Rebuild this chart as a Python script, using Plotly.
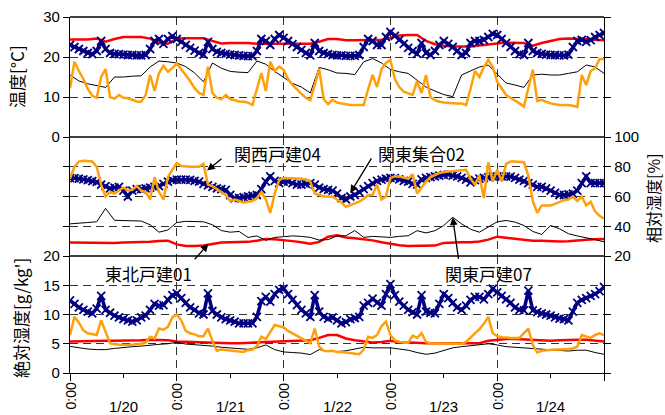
import plotly.graph_objects as go

# ---------------- data ----------------
hours_1h = list(range(121))          # hourly stamps, 1/20 0:00 .. 1/25 0:00
hours_2h = list(range(0, 121, 2))    # 2-hourly stamps

day_ticks = [0, 24, 48, 72, 96, 120]
day_labels = ["1/20", "1/21", "1/22", "1/23", "1/24"]
day_label_pos = [12, 36, 60, 84, 108]
temp_ticks = [0, 10, 20, 30]
rh_ticks = [20, 40, 60, 80, 100]
ah_ticks = [0, 5, 10, 15, 20]

names = ["東北戸建01", "関東戸建07", "関東集合02", "関西戸建04"]

# Temperature [°C]
temp_tohoku01 = [24.4,24.4,24.4,24.6,23.8,24.5,25.0,25.0,25.0,24.6,23.5,23.3,24.6,24.7,24.7,24.7,24.0,23.4,23.5,23.5,
                 23.5,23.3,23.3,23.3,23.3,23.4,23.4,23.3,23.8,24.5,24.5,24.2,24.2,24.2,24.3,24.3,24.8,25.4,25.5,25.5,
                 24.0,23.2,22.8,22.6,22.6,22.6,22.9,23.2,23.4,23.6,23.6,23.5,22.8,23.5,24.0,24.5,24.6,24.6,24.5,24.3,24.2]
temp_kanto07 = [15.5,14.0,13.3,12.8,12.4,15.0,15.0,15.2,15.3,17.5,19.0,18.8,18.5,17.6,16.0,13.8,18.5,17.2,16.4,16.2,
                16.1,19.0,18.2,16.4,14.8,13.4,12.5,11.0,17.4,16.8,16.0,15.9,15.6,18.8,19.6,18.5,16.9,16.3,15.9,14.2,
                12.5,11.5,10.6,10.1,15.5,16.5,17.5,18.0,15.8,13.5,13.0,12.4,15.5,15.7,15.5,15.5,15.9,16.3,18.0,17.5,15.9]
temp_kanto02 = [23.0,22.5,22.0,21.5,21.0,20.7,21.5,24.0,22.0,21.0,20.8,20.7,20.6,20.5,20.5,20.4,20.4,20.5,22.0,24.0,
                24.5,23.3,24.5,25.2,24.5,23.8,23.0,22.3,21.6,21.0,20.6,23.8,22.0,21.3,21.0,20.8,20.6,20.5,20.4,20.3,
                20.2,20.2,21.5,24.5,24.0,23.0,24.5,25.5,24.8,24.0,23.2,22.5,21.8,21.0,20.4,23.5,21.5,21.0,20.7,20.5,
                20.4,20.4,20.3,20.3,20.3,20.5,22.5,24.5,24.0,23.0,23.0,25.0,26.3,25.3,24.3,23.3,22.3,21.5,20.8,23.5,
                21.0,20.5,21.5,23.0,24.0,23.3,22.5,21.5,20.5,21.0,23.5,24.0,24.0,24.3,25.0,25.8,25.5,24.5,23.5,22.5,
                21.5,20.7,20.5,23.5,21.5,21.0,20.8,20.6,20.5,20.5,20.4,20.4,20.6,22.5,24.0,24.3,23.8,24.2,25.0,25.5,26.0]
temp_kansai04 = [12.2,18.8,16.5,14.5,12.0,10.3,9.8,15.0,17.0,10.0,9.6,10.5,9.8,9.7,9.3,8.9,8.8,10.5,15.5,11.5,
                 16.0,17.8,16.3,17.2,18.4,17.0,15.5,14.0,12.2,11.0,10.5,17.6,11.0,9.8,9.4,10.5,9.5,9.2,8.9,8.8,
                 8.6,8.0,12.2,16.0,11.5,18.8,16.5,17.6,16.8,14.5,13.0,11.8,10.8,9.8,9.2,13.0,17.0,9.5,8.2,9.3,
                 8.6,8.4,8.2,8.0,8.0,8.0,8.0,12.0,15.5,12.5,17.0,18.5,19.3,14.5,12.5,11.3,10.8,10.5,14.0,11.0,
                 15.5,10.0,9.2,8.8,8.6,8.5,8.4,8.4,8.4,8.0,12.0,16.5,15.0,17.5,19.3,17.5,13.8,12.0,10.5,9.8,
                 9.2,8.4,7.6,12.0,16.8,9.0,9.3,8.8,8.4,8.2,8.0,8.0,8.0,7.8,7.5,15.5,13.0,16.5,17.2,19.5,19.5]

# Relative humidity [%]
rh_tohoku01 = [29.1,29.0,28.9,28.6,28.8,28.8,29.0,29.0,29.2,29.5,30.0,30.3,27.8,26.8,26.8,27.0,28.0,29.0,29.2,29.3,
               29.5,30.3,31.5,31.2,30.8,30.0,29.3,28.2,29.5,33.0,34.0,32.5,32.0,31.5,30.5,29.2,28.2,27.2,26.8,26.8,
               26.8,27.0,28.8,29.2,29.3,29.3,29.8,31.0,33.0,32.3,31.5,31.0,30.3,30.2,29.8,29.7,29.9,30.6,31.0,31.2,31.5]
rh_kanto07 = [41.6,41.8,42.5,43.0,52.0,44.0,44.0,43.8,43.5,41.0,36.0,37.5,42.5,43.3,43.3,43.0,41.0,37.1,36.0,36.5,
              32.5,33.5,30.5,32.5,33.0,33.5,33.2,32.5,30.7,31.0,33.5,33.6,37.1,32.5,33.2,32.8,32.5,33.2,33.6,37.0,
              35.5,37.0,40.5,46.0,41.6,38.0,36.0,39.5,43.0,43.9,42.8,40.5,36.5,34.5,40.5,38.3,35.0,33.5,32.5,31.0,29.5]
rh_kanto02 = [72.4,72.3,72.0,71.5,71.0,70.3,69.8,68.0,67.0,65.5,66.0,66.5,64.0,60.0,64.0,65.0,65.0,65.5,66.0,66.5,
              67.0,68.5,70.0,71.0,71.3,71.3,71.3,71.2,70.5,70.0,68.5,67.5,66.5,65.5,65.0,64.5,61.0,58.7,59.0,59.5,
              60.0,60.5,61.0,65.0,70.0,73.6,70.5,69.0,70.0,70.0,69.0,68.0,68.0,68.5,69.0,68.0,66.0,65.0,64.5,64.0,
              62.0,59.0,58.0,60.0,61.0,63.0,65.0,67.0,69.0,70.5,71.3,72.0,72.5,72.3,71.5,70.5,70.0,68.5,68.0,71.5,
              72.5,73.0,73.5,74.0,74.5,74.7,74.0,73.5,72.5,71.3,69.5,71.0,72.0,72.5,73.0,73.5,73.5,73.5,73.5,73.3,
              72.5,71.3,70.5,69.0,68.0,66.5,66.5,65.5,64.0,62.5,61.0,61.0,61.5,62.0,64.0,69.0,73.5,69.0,69.0,69.0,69.0]
rh_kansai04 = [72,80,83.5,84,83.8,83.5,80,68,60,63,62,64,66,64,64.5,67,64,63,58,73,
               63,58,73,78,82.5,80.5,80,80,80,80,82,68,67,65,63,61,57,58,57,56,
               56.5,57,59,63,58,49,62,71,72.5,72.5,72.5,72.3,72,71.5,70,62,61,60,60,60,
               58,56,53,54,55,56.5,58.5,61,61,68,58,60,72.5,73.5,73.5,72.5,72,75,62,66,
               70,73,74.5,75.8,76.5,76.8,77,77.3,77.5,78,72,68,74,59,83,70,78,70,82,83.5,
               83.5,83,83,74,57,49,54,54,54,55,56.5,57.5,58,60,57,60,54,56.5,50,47,45]

# Absolute humidity [g/kg']
ah_tohoku01 = [5.4,5.45,5.5,5.5,5.5,5.5,5.5,5.5,5.6,5.7,5.7,5.6,5.4,5.35,5.3,5.2,5.1,5.1,5.1,5.1,
               5.15,5.25,5.3,5.4,5.45,5.5,5.55,5.6,6.0,6.5,6.5,5.9,5.6,5.4,5.2,5.3,5.5,5.3,5.2,5.1,
               5.1,5.1,5.1,5.1,5.1,5.1,5.1,5.5,5.7,5.8,5.8,5.7,5.7,5.6,5.5,5.6,5.7,5.7,5.7,5.6,5.4]
ah_kanto07 = [4.55,4.3,4.1,4.0,4.0,4.2,4.4,4.5,4.6,4.8,4.9,5.0,5.25,4.95,4.85,4.8,4.6,4.4,4.3,4.2,
              4.05,4.3,4.8,4.0,3.6,3.5,3.4,3.15,4.0,3.7,3.65,3.8,4.1,4.4,4.3,4.3,4.3,4.1,3.9,3.5,
              3.2,3.4,3.9,4.3,4.5,4.7,4.85,5.0,4.8,4.5,4.4,4.3,4.1,4.0,3.9,3.8,3.75,3.9,3.9,3.5,3.2]
ah_kanto02 = [12.4,11.8,11.2,10.8,10.5,10.2,11.0,13.2,10.8,10.3,9.8,9.5,9.2,9.0,8.8,9.0,9.5,9.8,10.8,11.8,
              11.5,11.6,12.5,13.3,13.6,12.8,12.0,11.2,10.8,10.2,10.0,13.6,10.6,10.0,9.5,9.2,9.0,8.8,8.5,8.5,
              8.5,8.5,9.6,12.3,13.0,12.2,13.5,14.2,14.4,13.5,12.5,11.6,10.8,10.2,9.6,13.3,10.5,9.6,9.3,9.5,
              9.0,8.5,8.7,9.2,9.4,9.6,11.5,12.0,12.7,12.0,11.5,13.5,15.2,13.3,12.2,11.5,10.8,10.4,10.0,13.3,
              10.5,10.3,10.2,11.8,13.5,12.8,12.0,11.2,10.8,11.5,12.5,13.0,13.0,12.6,13.5,14.4,13.8,13.2,12.6,12.0,
              11.2,10.8,10.7,14.1,10.7,10.4,10.2,10.0,9.8,9.5,9.3,9.2,9.0,10.5,12.0,12.5,12.8,13.2,13.5,14.0,14.7]
ah_kansai04 = [6.5,9.6,8.6,7.3,6.8,6.6,6.5,9.0,7.0,5.1,4.9,4.8,4.8,4.8,4.8,4.9,5.0,5.2,6.2,5.9,
               7.6,7.4,7.9,9.5,10.0,9.0,7.2,6.8,6.6,6.3,6.3,7.6,5.5,3.8,4.0,3.9,3.8,3.7,3.6,3.6,
               3.9,4.0,4.6,6.2,5.8,7.1,8.2,8.0,7.8,7.2,6.8,6.4,6.0,5.5,5.1,7.6,4.5,3.8,3.7,3.8,
               3.6,3.6,3.5,3.4,3.2,3.2,4.0,6.2,6.0,6.5,8.0,8.8,6.5,5.6,5.3,5.3,5.2,6.4,6.0,6.8,
               5.3,5.1,5.1,5.0,5.0,5.0,5.0,5.0,5.0,5.3,6.0,6.8,7.5,8.4,9.6,6.8,6.3,6.1,6.0,6.0,
               6.0,6.0,6.8,7.6,4.8,3.5,3.8,3.9,4.0,4.0,4.0,4.0,4.1,4.2,4.5,6.5,6.2,6.0,6.5,6.8,6.5]

# ---------------- styles ----------------
RED = "#ff0000"
BLACK = "#000000"
NAVY = "#000080"
ORANGE = "#ffa00a"
JP = "Noto Sans CJK JP"
NUM = "Liberation Sans"

fig = go.Figure()

panels = [
    ("y", temp_tohoku01, temp_kanto07, temp_kanto02, temp_kansai04),
    ("y2", rh_tohoku01, rh_kanto07, rh_kanto02, rh_kansai04),
    ("y3", ah_tohoku01, ah_kanto07, ah_kanto02, ah_kansai04),
]
for yax, red_v, blk_v, blu_v, org_v in panels:
    fig.add_trace(go.Scatter(x=hours_2h, y=red_v, yaxis=yax, mode="lines",
                             line=dict(color=RED, width=2.5), name=names[0], showlegend=False))
    fig.add_trace(go.Scatter(x=hours_2h, y=blk_v, yaxis=yax, mode="lines",
                             line=dict(color=BLACK, width=1), name=names[1], showlegend=False))
    fig.add_trace(go.Scatter(x=hours_1h, y=blu_v, yaxis=yax, mode="lines+markers",
                             line=dict(color=NAVY, width=3.5),
                             marker=dict(symbol="x-thin", size=8, line=dict(color=NAVY, width=1.8)),
                             name=names[2], showlegend=False))
    fig.add_trace(go.Scatter(x=hours_1h, y=org_v, yaxis=yax, mode="lines",
                             line=dict(color=ORANGE, width=2.5), name=names[3], showlegend=False))

H = 356.0
d_top = (373 - 137) / H
d_mid = (373 - 256) / H

grid = dict(showgrid=True, gridcolor="#333333", griddash="8px,5px", gridwidth=1)
yc = dict(showline=True, linecolor="black", linewidth=1.3, mirror="ticks", ticks="outside",
          ticklen=6, tickcolor="black", zeroline=False,
          tickfont=dict(family=NUM, size=15, color="black"), **grid)

fig.update_layout(
    width=665, height=415,
    margin=dict(l=70, r=61, t=17, b=42, autoexpand=False),
    paper_bgcolor="white", plot_bgcolor="white",
    xaxis=dict(range=[0, 120], anchor="y3", tickvals=day_ticks, showticklabels=False,
               ticks="outside", ticklen=7, tickcolor="black", showline=True, linecolor="black",
               linewidth=1.3, mirror=False, zeroline=False,
               minor=dict(tickvals=day_label_pos, ticks="outside", ticklen=4, tickcolor="black", showgrid=False),
               **grid),
    yaxis=dict(domain=[d_top, 1], range=[0, 30], tickvals=temp_ticks, side="left", **yc),
    yaxis2=dict(domain=[d_mid, d_top], range=[20, 100], tickvals=rh_ticks, side="right",
                anchor="x", **yc),
    yaxis3=dict(domain=[0, d_mid], range=[0, 20], tickvals=ah_ticks, side="left", **yc),
)

# horizontal panel borders
for yy in [1, d_top, d_mid]:
    fig.add_shape(type="line", xref="paper", yref="paper", x0=0, x1=1, y0=yy, y1=yy,
                  line=dict(color="black", width=1.3))

# x-axis labels
for d in day_ticks[:-1]:
    fig.add_annotation(x=d, y=0, xref="x", yref="paper", text="0:00", showarrow=False,
                       textangle=-90, xanchor="center", yanchor="top", yshift=-8,
                       font=dict(family=NUM, size=14, color="black"))
for p, lab in zip(day_label_pos, day_labels):
    fig.add_annotation(x=p, y=0, xref="x", yref="paper", text=lab, showarrow=False,
                       xanchor="center", yanchor="middle", yshift=-33,
                       font=dict(family=NUM, size=15, color="black"))

# axis titles
def title_ann(txt, px, py, size=17):
    fig.add_annotation(x=(px - 70) / 534, y=(373 - py) / H, xref="paper", yref="paper", text=txt,
                       showarrow=False, textangle=-90, xanchor="center", yanchor="middle",
                       font=dict(family=JP, size=size, color="black"))

title_ann("温度[°C]", 17, 77)
title_ann("絶対湿度[g/kg']", 20, 318)
title_ann("相対湿度[%]", 653, 198, size=16)

# series labels with arrows
labels = [
    ("関西戸建04", 277, 153, 30.8, 77.4, 16, -13),
    ("関東集合02", 422, 153, 63.0, 62.4, 22, -36),
    ("東北戸建01", 148, 273, 31.1, 28.2, -15, 17),
    ("関東戸建07", 488, 273, 86.0, 46.0, 6, 43),
]
for txt, tx, ty, hx, hy, ax, ay in labels:
    fig.add_annotation(x=(tx - 70) / 534, y=(373 - ty) / H, xref="paper", yref="paper", text=txt,
                       showarrow=False, xanchor="center", yanchor="middle",
                       font=dict(family=JP, size=17, color="black"))
    fig.add_annotation(x=hx, y=hy, xref="x", yref="y2", text="", showarrow=True,
                       arrowhead=2, arrowsize=1.2, arrowwidth=1.3, arrowcolor="black",
                       ax=ax, ay=ay)

fig.write_html("out.html")
